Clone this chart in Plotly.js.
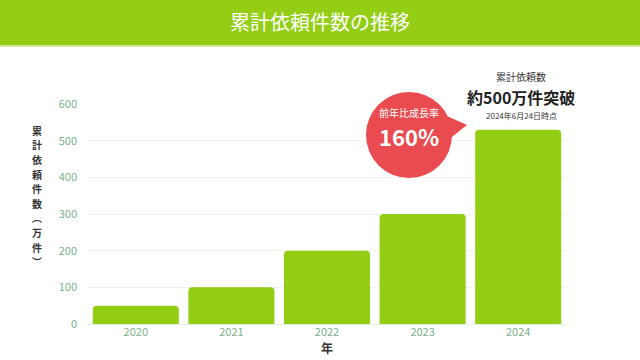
<!DOCTYPE html>
<html><head><meta charset="utf-8">
<script src="https://cdn.plot.ly/plotly-3.0.1.min.js"></script>
<style>html,body{margin:0;padding:0;background:#fff}#c{width:640px;height:360px}</style>
</head><body><div id="c"></div>
<script>
const years = ['2020','2021','2022','2023','2024'];
const counts = [50, 100, 200, 300, 530];
const yTicks = [0,100,200,300,400,500,600];
const yTitleChars = ['累','計','依','頼','件','数','︵','万','件','︶'];

const W=640,H=360,L=88,R=74,T=104,B=36;
const pw=W-L-R, ph=H-T-B;
const px=x=>(x-L)/pw, py=y=>(H-B-y)/ph;
const green='#93cd14', red='#e94b50', tickc='#7ab08a';
const font='"Noto Sans CJK JP", "Noto Sans", sans-serif';

const cx=409, cy=135, r=43;
const shapes=[
 {type:'rect',xref:'paper',yref:'paper',x0:px(0),x1:px(W),y0:py(45),y1:py(0),fillcolor:green,line:{width:0},layer:'below'},
 {type:'rect',xref:'paper',yref:'paper',x0:px(0),x1:px(W),y0:py(47),y1:py(45),fillcolor:'#cfe99a',line:{width:0},layer:'below'},
 {type:'circle',xref:'paper',yref:'paper',x0:px(cx-r),x1:px(cx+r),y0:py(cy+r),y1:py(cy-r),fillcolor:red,line:{width:0}},
 {type:'path',xref:'paper',yref:'paper',
  path:`M ${px(447)} ${py(116)} L ${px(467)} ${py(125)} L ${px(448)} ${py(140)} Z`,fillcolor:red,line:{width:0}}
];
const annotations=[
 {xref:'paper',yref:'paper',x:px(320),y:py(22),text:'累計依頼件数の推移',showarrow:false,font:{family:font,size:20,color:'#fff'},xanchor:'center',yanchor:'middle'},
 {xref:'paper',yref:'paper',x:px(cx),y:py(112),text:'前年比成長率',showarrow:false,font:{family:font,size:10,color:'#fff'},xanchor:'center',yanchor:'middle'},
 {xref:'paper',yref:'paper',x:px(cx),y:py(136),text:'<b>160%</b>',showarrow:false,font:{family:font,size:22,color:'#fff'},xanchor:'center',yanchor:'middle'},
 {xref:'paper',yref:'paper',x:px(521),y:py(77),text:'累計依頼数',showarrow:false,font:{family:font,size:10,color:'#333'},xanchor:'center',yanchor:'middle'},
 {xref:'paper',yref:'paper',x:px(521),y:py(97),text:'<b>約500万件突破</b>',showarrow:false,font:{family:font,size:16,color:'#222'},xanchor:'center',yanchor:'middle'},
 {xref:'paper',yref:'paper',x:px(521),y:py(115),text:'2024年6月24日時点',showarrow:false,font:{family:font,size:8,color:'#333'},xanchor:'center',yanchor:'middle'}
];
const step=14.6, mid=196, n=yTitleChars.length;
yTitleChars.forEach((ch,i)=>{
 annotations.push({xref:'paper',yref:'paper',x:px(37),y:py(mid+(i-(n-1)/2)*step),text:ch,showarrow:false,
  font:{family:font,size:10,color:'#333',weight:'bold'},xanchor:'center',yanchor:'middle',borderpad:0});
});
Plotly.newPlot('c',[{type:'bar',x:years,y:counts,marker:{color:green,cornerradius:4},hoverinfo:'skip'}],{
 width:W,height:H,margin:{l:L,r:R,t:T,b:B,pad:0},paper_bgcolor:'#fff',plot_bgcolor:'#fff',
 bargap:0.1,showlegend:false,font:{family:font},
 xaxis:{type:'category',tickfont:{family:font,size:11,color:tickc},ticks:'',showgrid:false,zeroline:false,showline:false,
   title:{text:'<b>年</b>',font:{family:font,size:12,color:'#333'},standoff:5}},
 yaxis:{range:[0,600],tickvals:yTicks,tickfont:{family:font,size:11,color:tickc},gridcolor:'#eef3ef',gridwidth:1,zeroline:true,zerolinecolor:'#e3efe4',ticks:'',ticklabelstandoff:10,fixedrange:true},
 shapes:shapes,annotations:annotations
},{staticPlot:true});
</script></body></html>
